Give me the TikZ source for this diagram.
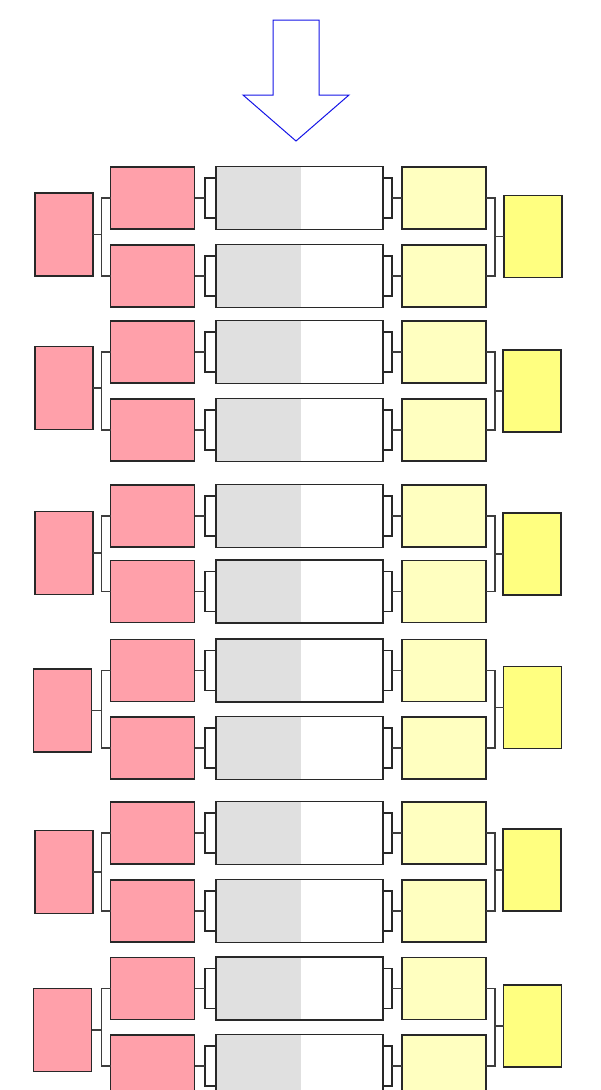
\documentclass[tikz,border=0pt]{standalone}
\definecolor{pk}{RGB}{255,160,170}
\definecolor{ylight}{RGB}{255,255,192}
\definecolor{ybright}{RGB}{255,255,128}
\definecolor{gy}{RGB}{224,224,224}
\definecolor{bd}{RGB}{40,40,40}
\definecolor{arr}{RGB}{20,20,230}
\tikzset{
  box/.style={draw=bd, line width=1.1pt, inner sep=0pt, outer sep=0pt},
  pinkS/.style={box, fill=pk, minimum width=84pt, minimum height=62pt},
  pinkB/.style={box, fill=pk, minimum width=58pt, minimum height=83pt},
  ylS/.style={box, fill=ylight, minimum width=84pt, minimum height=62pt},
  ylB/.style={box, fill=ybright, minimum width=58pt, minimum height=82pt},
  brkL/.style={box, fill=white, minimum width=16pt, minimum height=40pt},
  brkR/.style={box, fill=white, minimum width=14pt, minimum height=40pt},
  gbox/.style={box, fill=white, minimum width=167pt, minimum height=63pt,
    path picture={\fill[gy] (path picture bounding box.south west) rectangle ([xshift=85pt]path picture bounding box.north west);}},
  conn/.style={draw=bd!90, line width=1.1pt},
}
\newcommand\rowset[2]{%
  \node[brkL] (bl#1) at (213,#2) {};
  \node[brkR] (br#1) at (385,#2) {};
  \node[pinkS] (ps#1) at (152.5,#2) {};
  \node[gbox] (gb#1) at (299.5,#2) {};
  \node[ylS] (ys#1) at (444,#2) {};
  \draw[conn] (ps#1.east) -- (bl#1.west);
  \draw[conn] (br#1.east) -- (ys#1.west);
}
\newcommand\grpset[7]{%
  \rowset{#1a}{#2}
  \rowset{#1b}{#3}
  \node[pinkB] (P#1) at (#4,#5) {};
  \node[ylB] (Y#1) at (#6,#7) {};
  \coordinate (jl#1) at (101.5,#5);
  \coordinate (jr#1) at (495,#7);
  \draw[conn] (P#1.east) -- (jl#1);
  \draw[conn] (ps#1a.west) -| (jl#1) |- (ps#1b.west);
  \draw[conn] (Y#1.west) -- (jr#1);
  \draw[conn] (ys#1a.east) -| (jr#1) |- (ys#1b.east);
}
\begin{document}
\begin{tikzpicture}[x=1pt,y=-1pt]
\useasboundingbox (0,0) rectangle (601,1090);
\clip (0,0) rectangle (601,1090);
% big arrow
\draw[arr, line width=1pt, line join=miter]
  (273,20) -- (319,20) -- (319,95) -- (349,95) -- (296,141) -- (243,95) -- (273,95) -- cycle;
\grpset{1}{198}{276}{64}{234.5}{533}{236.5}
\grpset{2}{352}{430}{64}{388}{532}{391}
\grpset{3}{516}{591.5}{64}{553}{532}{554}
\grpset{4}{670.5}{748}{62.3}{710.5}{532.5}{707.7}
\grpset{5}{833}{911}{64}{872}{532}{870}
\grpset{6}{988.5}{1066}{62.5}{1030}{532.5}{1026}
\end{tikzpicture}
\end{document}
